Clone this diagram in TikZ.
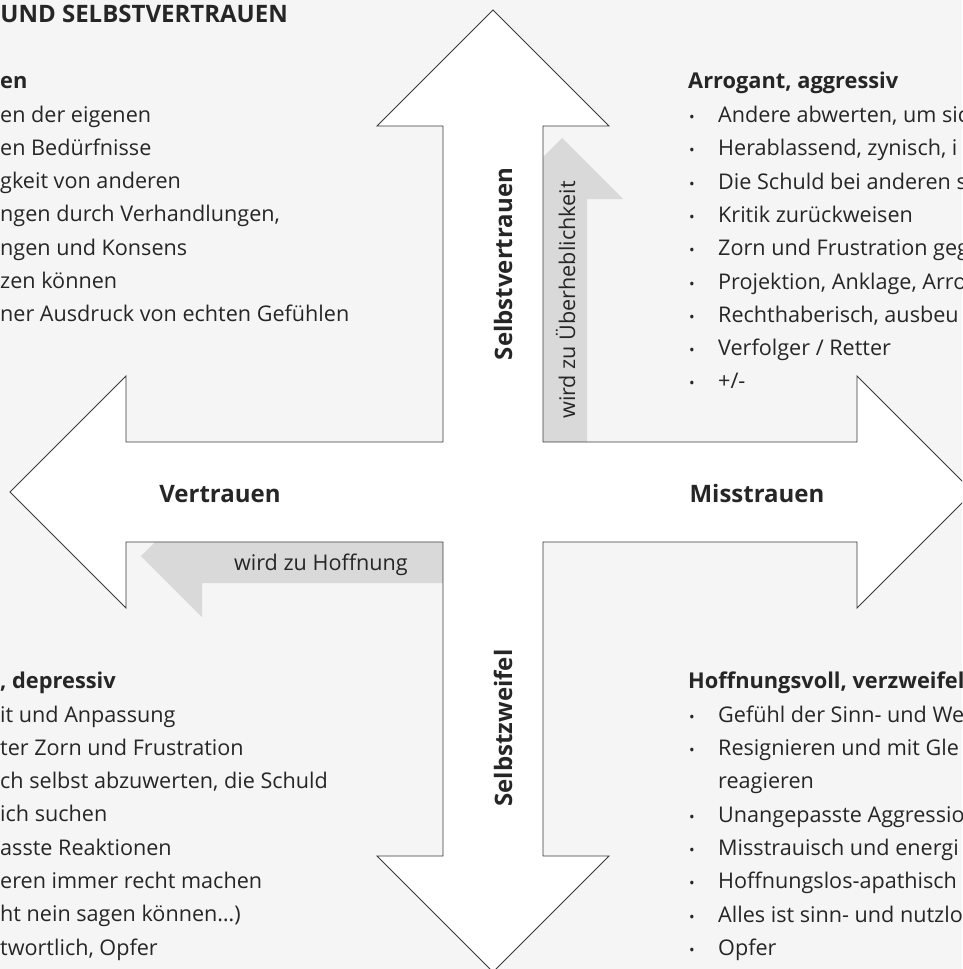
\documentclass[tikz,border=0pt]{standalone}
\usepackage{fontspec}
\setmainfont{Open Sans}
\definecolor{bg}{HTML}{F5F5F5}
\definecolor{strip}{HTML}{D9D9D9}
\definecolor{edge}{HTML}{3A3A3A}
\definecolor{ink}{HTML}{262626}
\begin{document}
\begin{tikzpicture}[x=1pt,y=-1pt,
  body/.style={anchor=base west, inner sep=0pt, text=ink, font=\fontsize{21.6}{26}\selectfont},
  bodyr/.style={body, anchor=base east},
  headtxt/.style={body, font=\fontsize{21.8}{26}\selectfont\bfseries},
  lab/.style={anchor=base, inner sep=0pt, text=ink, font=\fontsize{24}{28}\selectfont\bfseries},
  bul/.style={anchor=base, inner sep=0pt, text=ink, font=\fontsize{15}{17}\selectfont},
  cross/.style={draw=edge, fill=white, line width=0.8pt, line join=miter}]
\useasboundingbox (0,0) rectangle (962,969);
\clip (0,0) rectangle (962,969);
\fill[bg] (0,0) rectangle (962,969);
% grey arrows (under the cross)
\fill[strip] (587,442) -- (587,199) -- (623,199) -- (562,138) -- (501,199) -- (537,199) -- (537,442) -- cycle;
\fill[strip] (443,583) -- (202,583) -- (202,617) -- (141,556) -- (202,495) -- (202,529) -- (443,529) -- cycle;
% four-way arrow
\draw[cross] (493,10) -- (609,126) -- (543,126) -- (543,442) -- (857,442) -- (857,376) -- (973,492)
  -- (857,608) -- (857,542) -- (543,542) -- (543,856) -- (609,856) -- (493,972) -- (377,856)
  -- (443,856) -- (443,542) -- (126,542) -- (126,608) -- (10,492) -- (126,376) -- (126,442)
  -- (443,442) -- (443,126) -- (377,126) -- cycle;
% axis labels
\node[lab] (vertrauen) at (220,502) {Vertrauen};
\node[lab] (misstrauen) at (757,502) {Misstrauen};
\node[lab, rotate=90] (selbstv) at (512,264) {Selbstvertrauen};
\node[lab, rotate=90] (selbstz) at (512,728) {Selbstzweifel};
\node[body, anchor=base, rotate=90] (ueber) at (575,300) {wird zu Überheblichkeit};
\node[bodyr] (hoff) at (408,570) {wird zu Hoffnung};
% top left
\node[bodyr, font=\fontsize{24}{28}\selectfont\bfseries] (tl0) at (288,23) {UND SELBSTVERTRAUEN};
\node[headtxt] (tl1) at (0,88) {en};
\foreach \t [count=\i] in {en der eigenen, en Bedürfnisse, gkeit von anderen, {ngen durch Verhandlungen,}, ngen und Konsens, zen können, ner Ausdruck von echten Gefühlen}
  \node[body] (tlb\i) at (0,{122+33.3*(\i-1)}) {\t};
% bottom left
\node[headtxt] (bl0) at (0,688) {, depressiv};
\foreach \t [count=\i] in {it und Anpassung, ter Zorn und Frustration, {ch selbst abzuwerten, die Schuld}, ich suchen, asste Reaktionen, eren immer recht machen, ht nein sagen können…), {twortlich, Opfer}}
  \node[body] (blb\i) at (0,{722+33.3*(\i-1)}) {\t};
% top right
\node[headtxt] (tr0) at (688,88) {Arrogant, aggressiv};
\foreach \t [count=\i] in {{Andere abwerten, um sic}, {Herablassend, zynisch, i}, Die Schuld bei anderen s, Kritik zurückweisen, Zorn und Frustration geg, {Projektion, Anklage, Arro}, {Rechthaberisch, ausbeu}, Verfolger / Retter, +/-}{
  \node[bul] (trd\i) at (692,{122.5+33.3*(\i-1)}) {•};
  \node[body] (trb\i) at (718,{122.5+33.3*(\i-1)}) {\t};
}
% bottom right
\node[headtxt] (br0) at (688,688) {Hoffnungsvoll, verzweifel};
\foreach \t/\y [count=\i] in {Gefühl der Sinn- und We/722, Resignieren und mit Gle/755, Unangepasste Aggressio/822, Misstrauisch und energi/855, Hoffnungslos-apathisch/888, Alles ist sinn- und nutzlo/922, Opfer/955}{
  \node[bul] (brd\i) at (692,\y) {•};
  \node[body] (brb\i) at (718,\y) {\t};
}
\node[body] (brr) at (718,788) {reagieren};
\end{tikzpicture}
\end{document}
